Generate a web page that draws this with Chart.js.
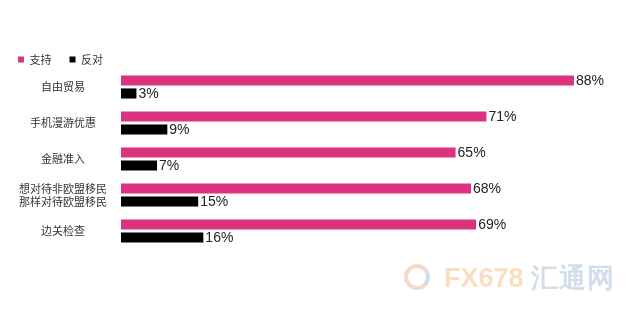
<!DOCTYPE html>
<html>
  <head>
    <script src="https://cdn.jsdelivr.net/npm/chart.js"></script>
    <style>
      body { margin: 0; background: #fff; }
      .wrap { position: relative; width: 630px; height: 313px; }
      .mark {
        position: absolute; left: 404px; top: 260px;
        font-family: "Liberation Sans", Arial, sans-serif;
        font-size: 27px; font-weight: bold;
        opacity: 0.35; white-space: nowrap;
      }
      .mark .fx { color: #f2a24a; }
      .mark .cn { color: #7f9fc8; letter-spacing: 1px; }
      .mark .logo {
        display: inline-block; width: 26px; height: 26px; border-radius: 50%;
        border: 4px solid #e8906a; border-right-color: #7f9fc8; box-sizing: border-box;
        vertical-align: -3px; margin-right: 14px;
      }
    </style>
  </head>
  <body>
    <div class="wrap">
      <canvas id="chart" width="630" height="313"></canvas>
      <div class="mark"><span class="logo"></span><span class="fx">FX678</span> <span class="cn">汇通网</span></div>
    </div>
    <script>
      const categories = ['自由贸易', '手机漫游优惠', '金融准入', ['想对待非欧盟移民', '那样对待欧盟移民'], '边关检查'];
      const support = [88, 71, 65, 68, 69];
      const oppose = [3, 9, 7, 15, 16];
      const seriesNames = ['支持', '反对'];

      // shrink the space the legend takes below itself
      const legendGap = {
        id: 'legendGap',
        beforeInit(chart) {
          const fit = chart.legend.fit;
          chart.legend.fit = function () {
            fit.bind(chart.legend)();
            this.height -= 6;
          };
        }
      };

      const valueLabels = {
        id: 'valueLabels',
        afterDatasetsDraw(chart) {
          const ctx = chart.ctx;
          ctx.save();
          ctx.font = '14px "Liberation Sans", Arial, sans-serif';
          ctx.fillStyle = '#222';
          ctx.textAlign = 'left';
          ctx.textBaseline = 'middle';
          chart.data.datasets.forEach((ds, i) => {
            chart.getDatasetMeta(i).data.forEach((bar, j) => {
              ctx.fillText(ds.data[j] + '%', bar.x + 2, bar.y + 1);
            });
          });
          ctx.restore();
        }
      };

      new Chart(document.getElementById('chart'), {
        type: 'bar',
        data: {
          labels: categories,
          datasets: [
            { label: seriesNames[0], data: support, backgroundColor: '#dc3380' },
            { label: seriesNames[1], data: oppose, backgroundColor: '#000000' }
          ]
        },
        options: {
          indexAxis: 'y',
          responsive: false,
          animation: false,
          categoryPercentage: 0.72,
          barPercentage: 0.78,
          layout: { padding: { left: 0, right: 20, top: 36, bottom: 64 } },
          scales: {
            x: { display: false, min: 0, max: 95 },
            y: {
              grid: { display: false, drawTicks: false },
              border: { display: false },
              afterFit(scale) { scale.width = 121; },
              ticks: {
                crossAlign: 'center',
                padding: 14,
                color: '#333',
                font: { family: '"Noto Sans CJK SC", sans-serif', size: 11 }
              }
            }
          },
          plugins: {
            tooltip: { enabled: false },
            legend: {
              position: 'top',
              align: 'start',
              labels: {
                boxWidth: 6,
                boxHeight: 6,
                padding: 18,
                color: '#333',
                font: { family: '"Noto Sans CJK SC", sans-serif', size: 11 }
              }
            }
          }
        },
        plugins: [legendGap, valueLabels]
      });
    </script>
  </body>
</html>
